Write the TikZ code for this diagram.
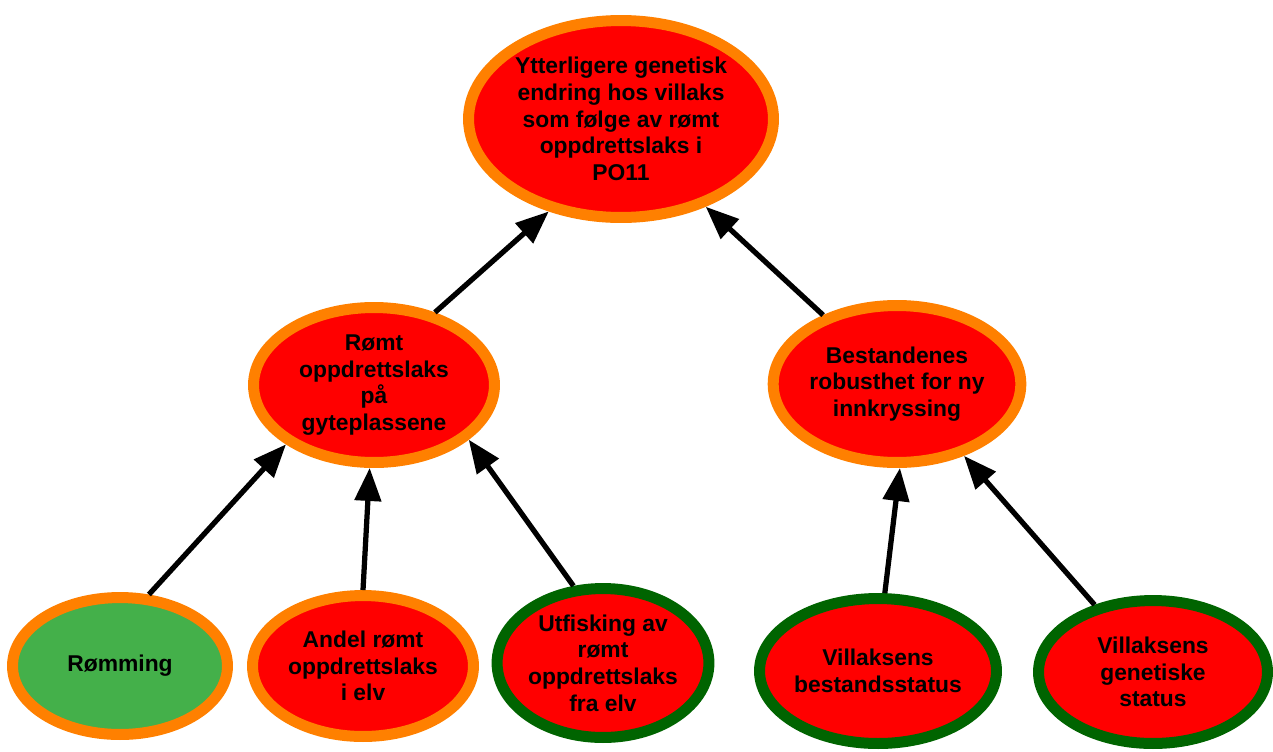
\documentclass[tikz,border=0pt]{standalone}
\usepackage{fontspec}
\setmainfont{Liberation Sans}
\usetikzlibrary{shapes.geometric,arrows.meta}
\definecolor{riskred}{RGB}{255,0,0}
\definecolor{riskorange}{RGB}{255,128,0}
\definecolor{riskgreen}{RGB}{0,100,0}
\definecolor{lightgreen}{RGB}{68,176,74}

\begin{document}
\begin{tikzpicture}[x=0.02cm, y=-0.02cm,
    factor/.style={ellipse, draw=riskorange, fill=riskred, line width=0.22cm,
        inner sep=0pt, align=center, font=\fontsize{13}{15.2}\selectfont\bfseries},
    measure/.style={factor, draw=riskgreen},
    link/.style={line width=0.105cm, -{Triangle[length=0.66cm,width=0.52cm]}}]
\useasboundingbox (0,0) rectangle (1273,751);

% Top factor
\node[factor, minimum width=6.1cm, minimum height=3.94cm] (endring) at (621,119)
    {Ytterligere genetisk\\endring hos villaks\\som følge av rømt\\oppdrettslaks i\\PO11};

% Middle level
\node[factor, minimum width=4.82cm, minimum height=3.1cm] (gyteplass) at (374,385)
    {Rømt\\oppdrettslaks\\på\\gyteplassene};
\node[factor, minimum width=4.74cm, minimum height=3.14cm] (robusthet) at (897,384)
    {Bestandenes\\robusthet for ny\\innkryssing};

% Bottom level
\node[factor, fill=lightgreen, minimum width=4.3cm, minimum height=2.74cm] (romming) at (120,666)
    {Rømming};
\node[factor, minimum width=4.42cm, minimum height=2.82cm] (andel) at (363,666)
    {Andel rømt\\oppdrettslaks\\i elv};
\node[measure, minimum width=4.14cm, minimum height=2.98cm] (utfisking) at (603,663)
    {Utfisking av\\rømt\\oppdrettslaks\\fra elv};
\node[measure, minimum width=4.58cm, minimum height=2.9cm] (bestand) at (878,671)
    {Villaksens\\bestandsstatus};
\node[measure, minimum width=4.58cm, minimum height=2.86cm] (genetisk) at (1153,672)
    {Villaksens\\genetiske\\status};

% Arrows
\draw[link] (gyteplass.50) -- (endring.232);
\draw[link] (robusthet.137) -- (endring.314);
\draw[link] (romming.68) -- (gyteplass.214);
\draw[link] (andel.90) -- (gyteplass.267);
\draw[link] (utfisking.111) -- (gyteplass.330);
\draw[link] (bestand.85) -- (robusthet.272);
\draw[link] (genetisk.131) -- (robusthet.313);
\end{tikzpicture}
\end{document}
